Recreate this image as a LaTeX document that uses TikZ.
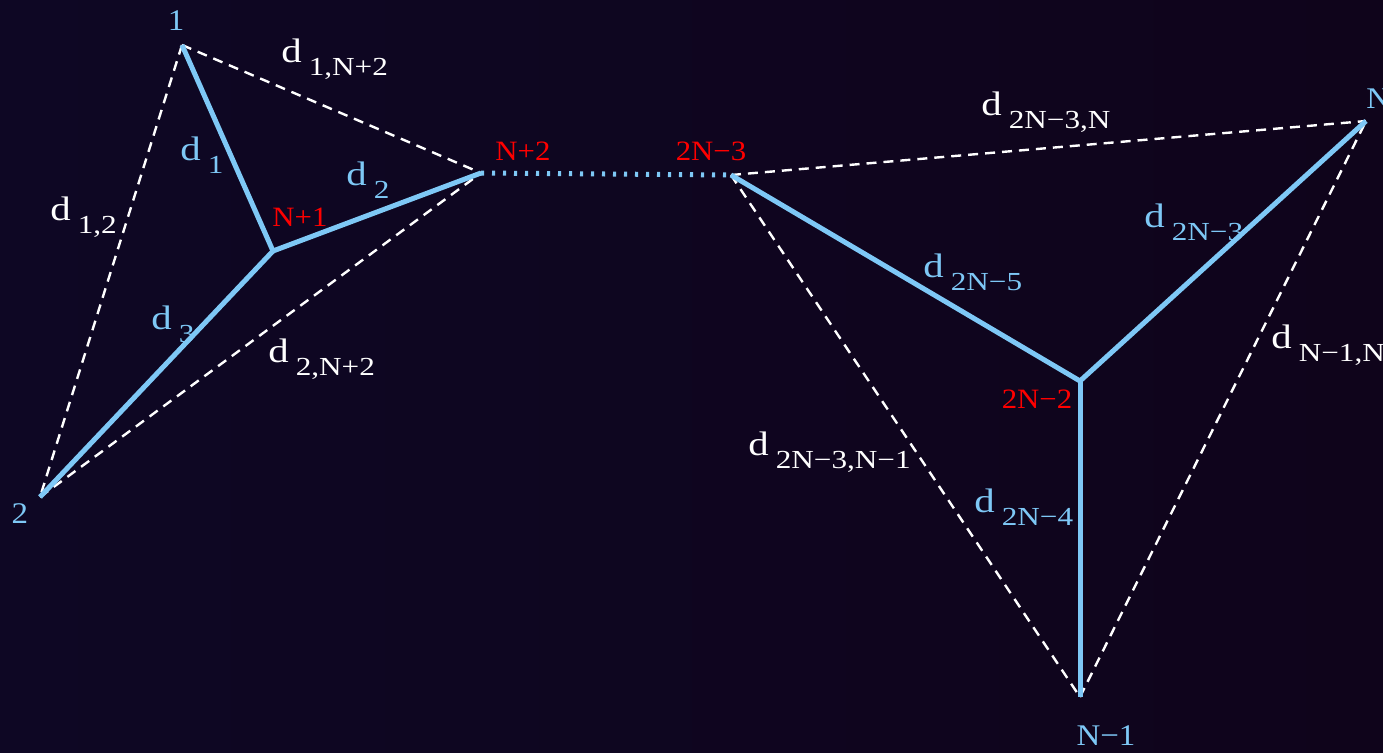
\documentclass[tikz,border=0pt]{standalone}
\usepackage{fontspec}
\setmainfont{Liberation Serif}
\usepackage{graphicx}
\definecolor{bgl}{HTML}{0E0724}
\definecolor{bgr}{HTML}{0F041B}
\definecolor{lblue}{HTML}{7EC8F6}
\definecolor{lred}{HTML}{FF0000}
\newcommand{\dlab}[1]{\scalebox{1.2}[1]{\fontsize{17}{17}\selectfont d}\hspace{3.5pt}\raisebox{-6.8pt}{\scalebox{1.2}[1]{\fontsize{13}{13}\selectfont #1}}}
\newcommand{\vl}[1]{\scalebox{1.1}[1]{#1}}
\tikzset{
  treeedge/.style={draw=lblue, line width=2.5pt},
  pairedge/.style={draw=white, line width=1.2pt, dash pattern=on 5pt off 3.5pt},
  linkedge/.style={draw=lblue, line width=2.5pt, dash pattern=on 1.6pt off 3.9pt},
  vlab/.style={inner sep=0pt, anchor=base, font=\fontsize{15}{15}\selectfont},
  leaflab/.style={vlab, text=lblue},
  innerlab/.style={vlab, text=lred, font=\fontsize{14}{14}\selectfont},
  dlabel/.style={inner sep=0pt, anchor=base west},
  dtree/.style={dlabel, text=lblue},
  dpair/.style={dlabel, text=white}
}
\begin{document}
\begin{tikzpicture}[x=0.5pt,y=-0.5pt]
\useasboundingbox (0,0) rectangle (1383,752);
\shade[left color=bgl, right color=bgr] (0,0) rectangle (1383,752);
\clip (0,0) rectangle (1383,752);
% vertices
\coordinate (v1) at (182,45);
\coordinate (v2) at (40,497);
\coordinate (a) at (273,251);
\coordinate (b) at (481,173);
\coordinate (c) at (731,175);
\coordinate (n) at (1366,121);
\coordinate (e) at (1080,381);
\coordinate (m) at (1080,697);
% dashed pair distances
\draw[pairedge] (v1) -- (v2);
\draw[pairedge] (v1) -- (b);
\draw[pairedge] (v2) -- (b);
\draw[pairedge] (c) -- (n);
\draw[pairedge] (c) -- (m);
\draw[pairedge] (m) -- (n);
% tree edges
\draw[treeedge] (v1) -- (a);
\draw[treeedge] (a) -- (b);
\draw[treeedge] (a) -- (v2);
\draw[treeedge] (c) -- (e);
\draw[treeedge] (e) -- (n);
\draw[treeedge] (e) -- (m);
\draw[linkedge] (b) -- (c);
% vertex labels
\node[leaflab] (l1) at (176,30) {\vl{1}};
\node[leaflab] (l2) at (20,523) {\vl{2}};
\node[innerlab] (lNp1) at (300,226) {\vl{N+1}};
\node[innerlab] (lNp2) at (523,160) {\vl{N+2}};
\node[innerlab] (l2Nm3) at (711,160) {\vl{2N−3}};
\node[leaflab, anchor=base west] (lN) at (1366,108) {\vl{N}};
\node[innerlab] (l2Nm2) at (1037,408) {\vl{2N−2}};
\node[leaflab] (lNm1) at (1106,745) {\vl{N−1}};
% distance labels
\node[dpair] (d1Np2) at (281,62) {\dlab{1,N+2}};
\node[dpair] (d12) at (50,220) {\dlab{1,2}};
\node[dtree] (d1) at (180,160) {\dlab{1}};
\node[dtree] (d2) at (346,185) {\dlab{2}};
\node[dtree] (d3) at (151,329) {\dlab{3}};
\node[dpair] (d2Np2) at (268,362) {\dlab{2,N+2}};
\node[dpair] (d2Nm3N) at (981,115) {\dlab{2N−3,N}};
\node[dtree] (d2Nm3) at (1144,227) {\dlab{2N−3}};
\node[dtree] (d2Nm5) at (923,277) {\dlab{2N−5}};
\node[dpair] (dNm1N) at (1271,348) {\dlab{N−1,N}};
\node[dpair] (d2Nm3Nm1) at (748,455) {\dlab{2N−3,N−1}};
\node[dtree] (d2Nm4) at (974,512) {\dlab{2N−4}};
\end{tikzpicture}
\end{document}
